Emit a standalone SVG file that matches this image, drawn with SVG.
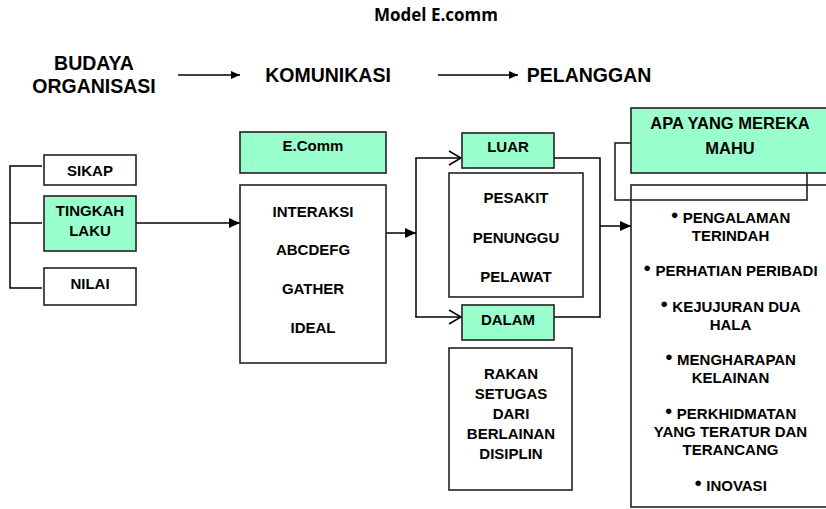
<svg xmlns="http://www.w3.org/2000/svg" width="826" height="509" viewBox="0 0 826 509">
<style>
text{font-family:"Liberation Sans",Arial,sans-serif;font-weight:bold;fill:#000;text-anchor:middle}
.h{font-size:19.5px}
.b{font-size:15px}
.t{font-size:16.5px}
.title{font-family:"Open Sans","Liberation Sans",sans-serif;font-size:17px}
.box{fill:#fff;stroke:#222;stroke-width:1.6}
.g{fill:#99ffcc;stroke:#222;stroke-width:1.6}
.ln{fill:none;stroke:#000;stroke-width:1.5}
.bul{font-size:13px}
</style>
<defs>
<marker id="fa" markerUnits="userSpaceOnUse" markerWidth="11" markerHeight="10" refX="11" refY="5" orient="auto"><path d="M0,0 L11,5 L0,10 z" fill="#000"/></marker>
<marker id="fs" markerUnits="userSpaceOnUse" markerWidth="9" markerHeight="8" refX="9" refY="4" orient="auto"><path d="M0,0 L9,4 L0,8 z" fill="#000"/></marker>
<marker id="oa" markerUnits="userSpaceOnUse" markerWidth="14" markerHeight="16" refX="13" refY="8" orient="auto"><path d="M1,1 L13,8 L1,15" fill="none" stroke="#000" stroke-width="1.5"/></marker>
</defs>
<rect width="826" height="509" fill="#fff"/>
<text class="title" x="436" y="21">Model E.comm</text>
<g id="header">
<text class="h" x="94" y="70">BUDAYA</text>
<text class="h" x="94" y="93">ORGANISASI</text>
<text class="h" x="328" y="82">KOMUNIKASI</text>
<text class="h" x="589" y="82">PELANGGAN</text>
</g>
<g id="connectors">
<line class="ln" x1="178" y1="75" x2="240" y2="75" marker-end="url(#fs)"/>
<line class="ln" x1="438" y1="75" x2="518" y2="75" marker-end="url(#fs)"/>
<polyline class="ln" points="42,166 10,166 10,288 42,288"/>
<line class="ln" x1="10" y1="223" x2="42" y2="223"/>
<line class="ln" x1="136" y1="223" x2="240" y2="223" marker-end="url(#fa)"/>
<line class="ln" x1="386" y1="233" x2="416" y2="233" marker-end="url(#fa)"/>
<line class="ln" x1="416" y1="158" x2="416" y2="317"/>
<line class="ln" x1="415.25" y1="158" x2="461" y2="158" marker-end="url(#oa)"/>
<line class="ln" x1="415.25" y1="317" x2="461" y2="317" marker-end="url(#oa)"/>
<polyline class="ln" points="554,158 600,158 600,317 554,317"/>
<line class="ln" x1="600" y1="226" x2="631" y2="226" marker-end="url(#fa)"/>
</g>
<g id="sikap"><rect class="box" x="44" y="155" width="92" height="30"/><text class="b" x="90" y="176">SIKAP</text></g>
<g id="tingkah-laku"><rect class="g" x="44" y="196" width="92" height="55"/><text class="b" x="90" y="216">TINGKAH</text><text class="b" x="90" y="236">LAKU</text></g>
<g id="nilai"><rect class="box" x="44" y="268" width="92" height="37"/><text class="b" x="90" y="289">NILAI</text></g>
<g id="ecomm"><rect class="g" x="240" y="132" width="146" height="41"/><text class="b" x="313" y="151">E.Comm</text></g>
<g id="komunikasi-box"><rect class="box" x="240" y="185" width="146" height="178"/>
<text class="b" x="313" y="217">INTERAKSI</text>
<text class="b" x="313" y="255">ABCDEFG</text>
<text class="b" x="313" y="294">GATHER</text>
<text class="b" x="313" y="333">IDEAL</text></g>
<g id="luar"><rect class="g" x="462" y="133" width="92" height="35"/><text class="b" x="508" y="152">LUAR</text></g>
<g id="pelanggan-luar"><rect class="box" x="449" y="173" width="134" height="124"/>
<text class="b" x="516" y="203">PESAKIT</text>
<text class="b" x="516" y="243">PENUNGGU</text>
<text class="b" x="516" y="282">PELAWAT</text></g>
<g id="dalam"><rect class="g" x="462" y="305" width="92" height="35"/><text class="b" x="508" y="325">DALAM</text></g>
<g id="rakan"><rect class="box" x="449" y="348" width="123" height="142"/>
<text class="b" x="511" y="379">RAKAN</text>
<text class="b" x="511" y="399">SETUGAS</text>
<text class="b" x="511" y="419">DARI</text>
<text class="b" x="511" y="439">BERLAINAN</text>
<text class="b" x="511" y="459">DISIPLIN</text></g>
<g id="apa-mereka-mahu">
<rect class="box" x="631" y="185" width="200" height="322"/>
<rect x="615" y="143" width="192" height="57" fill="none" stroke="#222" stroke-width="1.6"/>
<rect class="g" x="631" y="108" width="200" height="65"/>
<text class="t" x="730" y="129">APA YANG MEREKA</text>
<text class="t" x="730" y="154">MAHU</text>
<text class="b" x="730.5" y="223"><tspan class="bul" dy="-4">●</tspan><tspan dy="4"> PENGALAMAN</tspan></text>
<text class="b" x="730.5" y="241">TERINDAH</text>
<text class="b" x="730.5" y="276"><tspan class="bul" dy="-4">●</tspan><tspan dy="4"> PERHATIAN PERIBADI</tspan></text>
<text class="b" x="730.5" y="312"><tspan class="bul" dy="-4">●</tspan><tspan dy="4"> KEJUJURAN DUA</tspan></text>
<text class="b" x="730.5" y="330">HALA</text>
<text class="b" x="730.5" y="365"><tspan class="bul" dy="-4">●</tspan><tspan dy="4"> MENGHARAPAN</tspan></text>
<text class="b" x="730.5" y="383">KELAINAN</text>
<text class="b" x="730.5" y="419"><tspan class="bul" dy="-4">●</tspan><tspan dy="4"> PERKHIDMATAN</tspan></text>
<text class="b" x="730.5" y="437">YANG TERATUR DAN</text>
<text class="b" x="730.5" y="455">TERANCANG</text>
<text class="b" x="730.5" y="491"><tspan class="bul" dy="-4">●</tspan><tspan dy="4"> INOVASI</tspan></text>
</g>
</svg>
